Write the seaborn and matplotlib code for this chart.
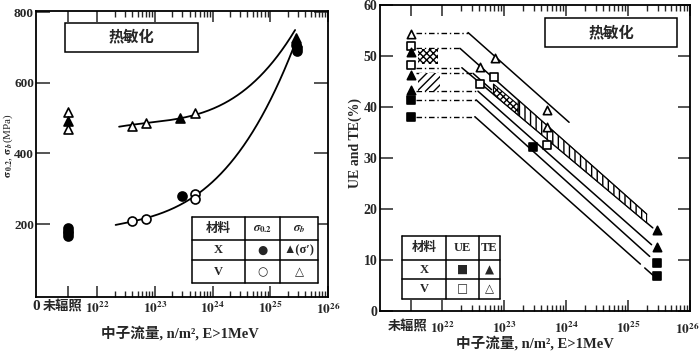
import numpy as np
import pandas as pd
import matplotlib
matplotlib.use("Agg")
import matplotlib.pyplot as plt
import matplotlib.transforms as mtransforms
import seaborn as sns

sns.set_theme(style="ticks")
FAM = ['Liberation Serif', 'Noto Sans CJK SC', 'DejaVu Sans']
plt.rcParams['font.family'] = FAM
plt.rcParams['mathtext.fontset'] = 'stix'
plt.rcParams['font.weight'] = 'bold'
plt.rcParams['axes.linewidth'] = 1.3

# ---------------- data (x = log10 fluence, unirradiated placed at 21.5) -------------
UNIRR = 21.5
# left panel: strength (MPa)
sb_V_x = [21.5, 21.5, 22.61, 22.84, 23.70]
sb_V_y = [518, 468, 477, 486, 515]
sb_X_x = [21.5, 23.44, 25.44, 25.46]
sb_X_y = [492, 499, 728, 716]
s02_V_x = [22.61, 22.85, 23.70, 23.70]
s02_V_y = [209, 214, 284, 272]
s02_X_x = [21.5, 21.5, 21.5, 21.5, 23.47, 25.45, 25.46, 25.47]
s02_X_y = [190, 182, 174, 166, 280, 708, 697, 690]
# trend curves (nodes)
sb_curve_x = [22.38, 22.8, 23.2, 23.7, 24.2, 24.7, 25.1, 25.43]
sb_curve_y = [477, 483, 492, 511, 544, 598, 668, 751]
s02_curve_x = [22.32, 22.6, 22.85, 23.2, 23.7, 24.02, 24.17, 24.66, 24.83, 25.23, 25.43]
s02_curve_y = [200, 207, 214, 236, 279, 324, 353, 457, 494, 617, 722]

# right panel: elongation (%)
TE_V_x = [21.5, 22.61, 22.85, 23.70, 23.70]
TE_V_y = [54.4, 47.9, 49.7, 39.5, 36.1]
UE_V_x = [21.5, 21.5, 22.61, 22.84, 23.70]
UE_V_y = [52.0, 48.2, 44.6, 45.8, 32.5]
TE_X_x = [21.5, 21.5, 21.5, 25.46, 25.46]
TE_X_y = [50.8, 46.3, 43.3, 15.9, 12.6]
UE_X_x = [21.5, 21.5, 23.47, 25.46, 25.46]
UE_X_y = [41.4, 38.1, 32.1, 9.5, 6.9]
# guide lines: unirradiated level, knee fluence, end fluence, end value
guide_level = [54.6, 51.5, 47.7, 46.6, 43.1, 41.4, 38.1]
guide_knee = [22.42, 22.29, 22.32, 22.50, 22.58, 22.55, 22.53]
guide_end_x = [24.05, 25.30, 25.40, 22.80, 25.38, 25.35, 25.20]
guide_end_y = [37.0, 19.0, 16.3, 43.4, 13.0, 10.7, 9.2]
guide_tail = (25.27, 25.40)      # short broken piece of the lowest line
# scatter bands: crosshatched start, hatched band (between guide lines 2 and 3)
cross_x = [22.83, 23.23]
cross_width = 2.0
band_x = [23.23, 25.30]
unirr_cross = (21.62, 21.94, 48.4, 51.4)
unirr_diag = (21.62, 21.96, 43.1, 46.7)

xticks_major = [21.5, 22, 23, 24, 25, 26]
xtick_labels = ['', '$10^{22}$', '$10^{23}$', '$10^{24}$', '$10^{25}$', '$10^{26}$']
minor = [n + np.log10(k) for n in range(22, 26) for k in range(2, 10)]

fig = plt.figure(figsize=(7.0, 3.52), dpi=100)
axL = fig.add_axes([36/700, 1-297/352, 292/700, 286/352])
axR = fig.add_axes([380/700, 1-311/352, 310/700, 306/352])

def style_axis(ax, pad):
    ax.set_xticks(xticks_major)
    ax.set_xticklabels(xtick_labels, fontsize=9.5)
    ax.set_xticks(minor, minor=True)
    ax.tick_params(axis='x', which='major', direction='in', length=8, width=1.1,
                   top=True, pad=pad)
    ax.tick_params(axis='x', which='minor', direction='in', length=4, width=1.0, top=True)
    ax.tick_params(axis='y', which='major', direction='in', length=9, width=1.1,
                   right=True, labelsize=10, pad=2)
    for lab in ax.get_yticklabels():
        lab.set_fontweight('bold')
    for s in ax.spines.values():
        s.set_color('black')

def pts(ax, x, y, marker, filled, size=42):
    sns.scatterplot(x=x, y=y, ax=ax, marker=marker, s=size,
                    facecolor='black' if filled else 'white',
                    edgecolor='black', linewidth=1.2, zorder=5, legend=False)

def draw_table(ax, xs, ys, cells):
    ax.add_patch(plt.Rectangle((xs[0], ys[-1]), xs[-1]-xs[0], ys[0]-ys[-1],
                               transform=ax.transAxes, fc='white', ec='none', zorder=6))
    for xv in xs:
        ax.plot([xv, xv], [ys[-1], ys[0]], transform=ax.transAxes, color='black', lw=1.1, zorder=7)
    for yv in ys:
        ax.plot([xs[0], xs[-1]], [yv, yv], transform=ax.transAxes, color='black', lw=1.1, zorder=7)
    for r in range(3):
        for c in range(3):
            cx = (xs[c] + xs[c+1]) / 2
            cy = (ys[r] + ys[r+1]) / 2
            txt = cells[r][c]
            sym = txt in ('●', '○', '▲', '△', '■', '□')
            ax.text(cx, cy, txt, transform=ax.transAxes, ha='center', va='center',
                    fontsize=8.5 if sym else 9, fontweight='bold', zorder=8,
                    family=['DejaVu Sans'] if sym else FAM)

# ---------------- left panel ----------------
axL.set_xlim(20.94, 26.0)
axL.set_ylim(-6, 803)
tc = np.linspace(sb_curve_x[0], sb_curve_x[-1], 200)
p = np.polyfit(np.array(sb_curve_x) - 22, sb_curve_y, 3)
sns.lineplot(x=tc, y=np.polyval(p, tc - 22), ax=axL, color='black', lw=1.3)
tc2 = np.linspace(s02_curve_x[0], s02_curve_x[-1], 200)
p2 = np.polyfit(np.array(s02_curve_x) - 22, s02_curve_y, 3)
sns.lineplot(x=tc2, y=np.polyval(p2, tc2 - 22), ax=axL, color='black', lw=1.3)
pts(axL, sb_V_x, sb_V_y, '^', False)
pts(axL, sb_X_x, sb_X_y, '^', True)
pts(axL, s02_V_x, s02_V_y, 'o', False)
pts(axL, s02_X_x, s02_X_y, 'o', True)
style_axis(axL, 3)
axL.set_yticks([200, 400, 600, 800])
axL.tick_params(axis='y', direction='in', length=10, pad=1.5, labelsize=9.5)
axL.text(20.94, -0.012, '0', transform=axL.get_xaxis_transform(), ha='center', va='top',
         fontsize=11, fontweight='bold')
axL.text(21.40, -0.012, '未辐照', transform=axL.get_xaxis_transform(), ha='center', va='top',
         fontsize=9.5, fontweight='bold')
axL.set_ylabel(r'$\mathbf{\sigma}_{\,0.2}$, $\mathbf{\sigma}_{\,b}$(MPa)', fontsize=8)
axL.yaxis.set_label_coords(-0.073, 0.53)
fig.text(180/700, 1-333/352, '中子流量, n/m², E>1MeV', ha='center', va='center',
         fontsize=10.5, fontweight='bold')
axL.add_patch(plt.Rectangle((0.099, 0.858), 0.456, 0.101, transform=axL.transAxes,
                            fill=False, ec='black', lw=1.1))
axL.text(0.327, 0.908, '热敏化', transform=axL.transAxes, ha='center', va='center',
         fontsize=11, fontweight='bold')
draw_table(axL, [0.534, 0.716, 0.836, 0.966], [0.280, 0.199, 0.129, 0.049],
           [['材料', r'$\sigma_{0.2}$', r'$\sigma_b$'],
            ['X', '●', '▲(σ′)'],
            ['V', '○', '△']])

# ---------------- right panel ----------------
axR.set_xlim(21.0, 26.0)
axR.set_ylim(0, 60)
for lv, kn, ex, ey in zip(guide_level, guide_knee, guide_end_x, guide_end_y):
    sns.lineplot(x=[21.58, kn], y=[lv, lv], ax=axR, color='black', lw=1.0,
                 linestyle=(0, (4, 2, 1, 2)))
    sns.lineplot(x=[kn, ex], y=[lv, ey], ax=axR, color='black', lw=1.1)

def guide_val(i, x):
    x = np.asarray(x, dtype=float)
    s = (guide_end_y[i] - guide_level[i]) / (guide_end_x[i] - guide_knee[i])
    return guide_level[i] + s * (x - guide_knee[i])

tx = np.array(guide_tail)
sns.lineplot(x=tx, y=guide_val(6, tx), ax=axR, color='black', lw=1.1)
cx = np.array(cross_x)
axR.fill_between(cx, guide_val(2, cx), guide_val(2, cx) + cross_width, facecolor='white',
                 edgecolor='black', hatch='xxxxx', lw=0.8, zorder=3)
bx = np.array(band_x)
axR.fill_between(bx, guide_val(2, bx), guide_val(1, bx), facecolor='white',
                 edgecolor='black', hatch='|||', lw=0.8, zorder=3)
axR.fill_between(unirr_cross[:2], unirr_cross[2], unirr_cross[3], facecolor='white',
                 edgecolor='black', hatch='xxxxx', lw=0, zorder=3)
axR.fill_between(unirr_diag[:2], unirr_diag[2], unirr_diag[3], facecolor='white',
                 edgecolor='black', hatch='////', lw=0, zorder=3)
pts(axR, TE_V_x, TE_V_y, '^', False, 36)
pts(axR, UE_V_x, UE_V_y, 's', False, 40)
pts(axR, TE_X_x, TE_X_y, '^', True, 36)
pts(axR, UE_X_x, UE_X_y, 's', True, 36)
style_axis(axR, 7)
axR.set_yticks(range(0, 61, 10))
last = axR.get_xticklabels()[-1]
last.set_transform(last.get_transform() +
                   mtransforms.ScaledTranslation(-3/100, 0, fig.dpi_scale_trans))
axR.text(21.45, -0.03, '未辐照', transform=axR.get_xaxis_transform(), ha='center', va='top',
         fontsize=9.5, fontweight='bold')
axR.set_ylabel('UE and TE(%)', fontsize=10, fontweight='bold')
axR.yaxis.set_label_coords(-0.058, 0.55)
fig.text(535/700, 1-343/352, '中子流量, n/m², E>1MeV', ha='center', va='center',
         fontsize=10.5, fontweight='bold')
axR.add_patch(plt.Rectangle((0.532, 0.864), 0.425, 0.093, transform=axR.transAxes,
                            fill=False, ec='black', lw=1.1))
axR.text(0.745, 0.91, '热敏化', transform=axR.transAxes, ha='center', va='center',
         fontsize=11, fontweight='bold')
draw_table(axR, [0.070, 0.213, 0.319, 0.387], [0.245, 0.167, 0.104, 0.039],
           [['材料', 'UE', 'TE'],
            ['X', '■', '▲'],
            ['V', '□', '△']])

fig.savefig('out.png', dpi=100)
